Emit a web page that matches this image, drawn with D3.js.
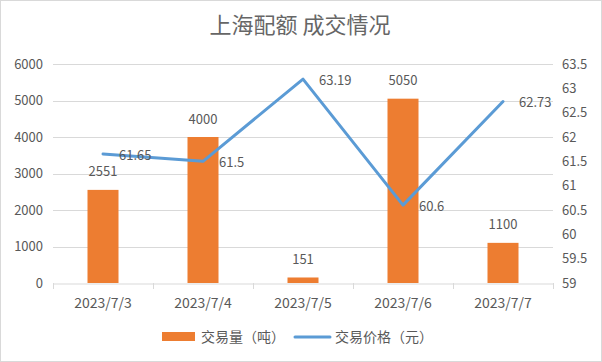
<!DOCTYPE html>
<html>
<head>
<meta charset="utf-8">
<script src="https://cdn.jsdelivr.net/npm/d3@7"></script>
<style>
  body { margin: 0; background: #fff; }
  svg text { font-family: "Noto Sans CJK SC", "Noto Sans", sans-serif; fill: #595959; }
</style>
</head>
<body>
<div id="chart"></div>
<script>
// chart data
const dates = ['2023/7/3', '2023/7/4', '2023/7/5', '2023/7/6', '2023/7/7'];
const volume = [2551, 4000, 151, 5050, 1100];
const price = [61.65, 61.5, 63.19, 60.6, 62.73];
const leftTicks = [0, 1000, 2000, 3000, 4000, 5000, 6000];
const rightTicks = [59, 59.5, 60, 60.5, 61, 61.5, 62, 62.5, 63, 63.5];

const width = 602;
const height = 362;
const plot = { left: 53, right: 553, top: 64, bottom: 283 };

const svg = d3.select('#chart')
  .append('svg')
  .attr('width', width)
  .attr('height', height);

// outer border
svg.append('rect')
  .attr('x', 0.5).attr('y', 0.5)
  .attr('width', width - 1).attr('height', height - 1)
  .attr('fill', '#fff')
  .attr('stroke', '#d9d9d9');

svg.append('text')
  .attr('x', 300).attr('y', 33)
  .attr('text-anchor', 'middle')
  .style('font-size', '22px')
  .style('fill', '#666')
  .text('上海配额 成交情况');

const x = d3.scaleBand()
  .domain(dates)
  .range([plot.left, plot.right]);

const yLeft = d3.scaleLinear()
  .domain([0, 6000])
  .range([plot.bottom, plot.top]);

const yRight = d3.scaleLinear()
  .domain([59, 63.5])
  .range([plot.bottom, plot.top]);

// gridlines
svg.append('g')
  .selectAll('line')
  .data(leftTicks.filter(d => d > 0))
  .enter()
  .append('line')
  .attr('x1', plot.left).attr('x2', plot.right)
  .attr('y1', d => Math.round(yLeft(d)) + 0.5)
  .attr('y2', d => Math.round(yLeft(d)) + 0.5)
  .attr('stroke', '#d9d9d9');

// left axis labels
svg.append('g')
  .selectAll('text')
  .data(leftTicks)
  .enter()
  .append('text')
  .attr('x', 43)
  .attr('y', d => yLeft(d))
  .attr('dy', '0.35em')
  .attr('text-anchor', 'end')
  .style('font-size', '13px')
  .text(d => d);

// right axis labels
svg.append('g')
  .selectAll('text')
  .data(rightTicks)
  .enter()
  .append('text')
  .attr('x', 562)
  .attr('y', d => yRight(d))
  .attr('dy', '0.35em')
  .style('font-size', '13px')
  .text(d => d);

// x axis
const xAxis = svg.append('g')
  .attr('transform', `translate(0,${plot.bottom + 0.5})`)
  .call(d3.axisBottom(x).tickSize(0).tickFormat(''));
xAxis.select('.domain').attr('stroke', '#d9d9d9');
const bounds = dates.map(d => x(d)).concat([plot.right]);
svg.append('g')
  .selectAll('line')
  .data(bounds)
  .enter()
  .append('line')
  .attr('x1', d => Math.round(d) + 0.5).attr('x2', d => Math.round(d) + 0.5)
  .attr('y1', plot.bottom).attr('y2', plot.bottom + 6)
  .attr('stroke', '#d9d9d9');

svg.append('g')
  .selectAll('text')
  .data(dates)
  .enter()
  .append('text')
  .attr('x', d => x(d) + x.bandwidth() / 2)
  .attr('y', 303)
  .attr('dy', '0.35em')
  .attr('text-anchor', 'middle')
  .style('font-size', '14px')
  .text(d => d);

// bars
const barW = x.bandwidth() * 0.31;
svg.append('g')
  .selectAll('rect')
  .data(volume)
  .enter()
  .append('rect')
  .attr('x', (d, i) => x(dates[i]) + (x.bandwidth() - barW) / 2)
  .attr('y', d => yLeft(d))
  .attr('width', barW)
  .attr('height', d => plot.bottom - yLeft(d))
  .attr('fill', '#ED7D31');

svg.append('g')
  .selectAll('text')
  .data(volume)
  .enter()
  .append('text')
  .attr('x', (d, i) => x(dates[i]) + x.bandwidth() / 2)
  .attr('y', d => yLeft(d) - 18)
  .attr('dy', '0.35em')
  .attr('text-anchor', 'middle')
  .style('font-size', '13px')
  .text(d => d);

// price line
const line = d3.line()
  .x((d, i) => x(dates[i]) + x.bandwidth() / 2)
  .y(d => yRight(d));

svg.append('path')
  .datum(price)
  .attr('d', line)
  .attr('fill', 'none')
  .attr('stroke', '#5B9BD5')
  .attr('stroke-width', 3)
  .attr('stroke-linejoin', 'round')
  .attr('stroke-linecap', 'round');

svg.append('g')
  .selectAll('text')
  .data(price)
  .enter()
  .append('text')
  .attr('x', (d, i) => x(dates[i]) + x.bandwidth() / 2 + 16)
  .attr('y', d => yRight(d) + 1)
  .attr('dy', '0.35em')
  .style('font-size', '13px')
  .text(d => d);

// legend
const legend = svg.append('g');
legend.append('rect')
  .attr('x', 162).attr('y', 332)
  .attr('width', 33).attr('height', 9)
  .attr('fill', '#ED7D31');
legend.append('text')
  .attr('x', 201).attr('y', 337)
  .attr('dy', '0.35em')
  .style('font-size', '14px')
  .text('交易量（吨）');
legend.append('line')
  .attr('x1', 295).attr('x2', 330)
  .attr('y1', 337).attr('y2', 337)
  .attr('stroke', '#5B9BD5')
  .attr('stroke-width', 3)
  .attr('stroke-linecap', 'round');
legend.append('text')
  .attr('x', 335).attr('y', 337)
  .attr('dy', '0.35em')
  .style('font-size', '14px')
  .text('交易价格（元）');
</script>
</body>
</html>
